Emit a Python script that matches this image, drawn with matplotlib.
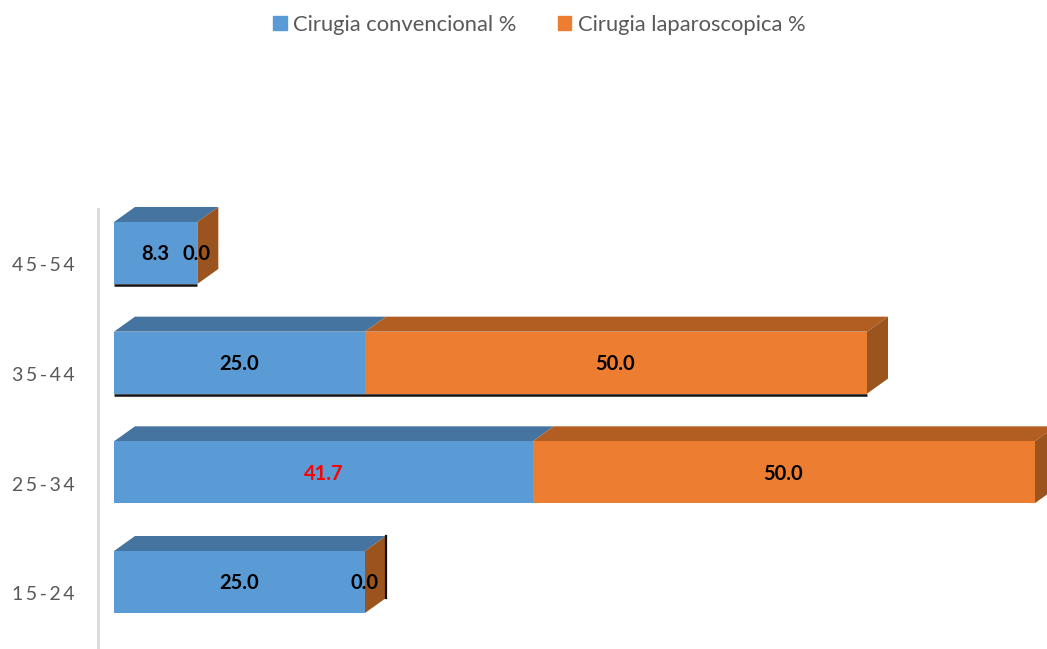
import matplotlib
matplotlib.use("Agg")
import matplotlib.pyplot as plt
from matplotlib.patches import Patch, Polygon
from matplotlib.transforms import ScaledTranslation

plt.rcParams['font.family'] = ['Lato', 'DejaVu Sans']

age_groups = ['15-24', '25-34', '35-44', '45-54']
conventional = [25.0, 41.7, 25.0, 8.3]
laparoscopic = [0.0, 50.0, 50.0, 0.0]
series_names = ['Cirugia convencional %', 'Cirugia laparoscopica %']

BLUE, BLUE_TOP = '#5B9BD5', '#44749F'
ORANGE, ORANGE_TOP, ORANGE_SIDE = '#ED7D31', '#B25E22', '#9C541F'
W, H = 1047, 649
PX_PER_UNIT = 10.04
PX_PER_ROW = 109.67
BAR_PX = 62
DEPTH_X, DEPTH_Y = 21 / PX_PER_UNIT, 15 / PX_PER_ROW

fig = plt.figure(figsize=(W / 100, H / 100), dpi=100)
ax_left, ax_top = 98, 209
ax = fig.add_axes([ax_left / W, 0, 1 - ax_left / W, 1 - ax_top / H])
ax.set_xlim(-(114 - ax_left) / PX_PER_UNIT, (W - 114) / PX_PER_UNIT)
ax.set_ylim(-(H - 582) / PX_PER_ROW, (582 - ax_top) / PX_PER_ROW)
half = BAR_PX / 2 / PX_PER_ROW


def extrude_top(x0, x1, y, color):
    """Upper face of a pseudo-3D bar segment."""
    ax.add_patch(Polygon([(x0, y + half), (x1, y + half),
                          (x1 + DEPTH_X, y + half + DEPTH_Y),
                          (x0 + DEPTH_X, y + half + DEPTH_Y)],
                         closed=True, fc=color, ec='none', clip_on=False, zorder=2))


for y, (a, b) in enumerate(zip(conventional, laparoscopic)):
    total = a + b
    extrude_top(0, a, y, BLUE_TOP)
    if b > 0:
        extrude_top(a, total, y, ORANGE_TOP)
    # right-hand end face
    ax.add_patch(Polygon([(total, y - half), (total + DEPTH_X, y - half + DEPTH_Y),
                          (total + DEPTH_X, y + half + DEPTH_Y), (total, y + half)],
                         closed=True, fc=ORANGE_SIDE, ec='none', clip_on=False, zorder=2))

rows = range(len(age_groups))
ax.barh(rows, conventional, height=2 * half, color=BLUE, zorder=3)
ax.barh(rows, laparoscopic, left=conventional, height=2 * half, color=ORANGE, zorder=3)

# dark base line under the two upper bars, dark edge on the lowest bar's end face
for y in (2, 3):
    total = conventional[y] + laparoscopic[y]
    ax.plot([0, total], [y - half - 0.008, y - half - 0.008], color='#111111', lw=1.8,
            solid_capstyle='butt', zorder=4)
ax.plot([conventional[0] + DEPTH_X] * 2,
        [-half + DEPTH_Y, half + DEPTH_Y], color='#111111', lw=1.6, zorder=4)

# value labels, nudged just under the bar centre
text_y = -0.012
for y, (a, b) in enumerate(zip(conventional, laparoscopic)):
    ax.text(a / 2, y + text_y, f'{a:.1f}', ha='center', va='center', fontsize=14.5,
            fontweight='bold', color='#FF0000' if a == 41.7 else 'black', zorder=5)
    ax.text(a + b / 2 - 0.08, y + text_y, f'{b:.1f}', ha='center', va='center', fontsize=14.5,
            fontweight='bold', color='black', zorder=5)

for side in ('top', 'right', 'bottom'):
    ax.spines[side].set_visible(False)
ax.spines['left'].set_color('#D9D9D9')
ax.spines['left'].set_linewidth(2)
ax.set_xticks([])
ax.set_yticks(list(rows))
ax.set_yticklabels(['\u2009'.join(g) for g in age_groups], fontsize=14, color='#595959')
ax.tick_params(axis='y', length=0, pad=17)

# the category labels sit below the centre of their bars
label_shift = ScaledTranslation(0, -0.115, fig.dpi_scale_trans)
for lab in ax.get_yticklabels():
    lab.set_transform(lab.get_transform() + label_shift)

fig.legend(handles=[Patch(color=BLUE, label=series_names[0]),
                    Patch(color=ORANGE, label=series_names[1])],
           loc='upper center', bbox_to_anchor=(539.5 / W, 1 + 5 / H), ncol=2, frameon=False,
           fontsize=15.8, labelcolor='#595959', handlelength=0.6, handleheight=0.6,
           handletextpad=0.3, columnspacing=1.9)

fig.savefig('out.png', dpi=100, facecolor='white')
